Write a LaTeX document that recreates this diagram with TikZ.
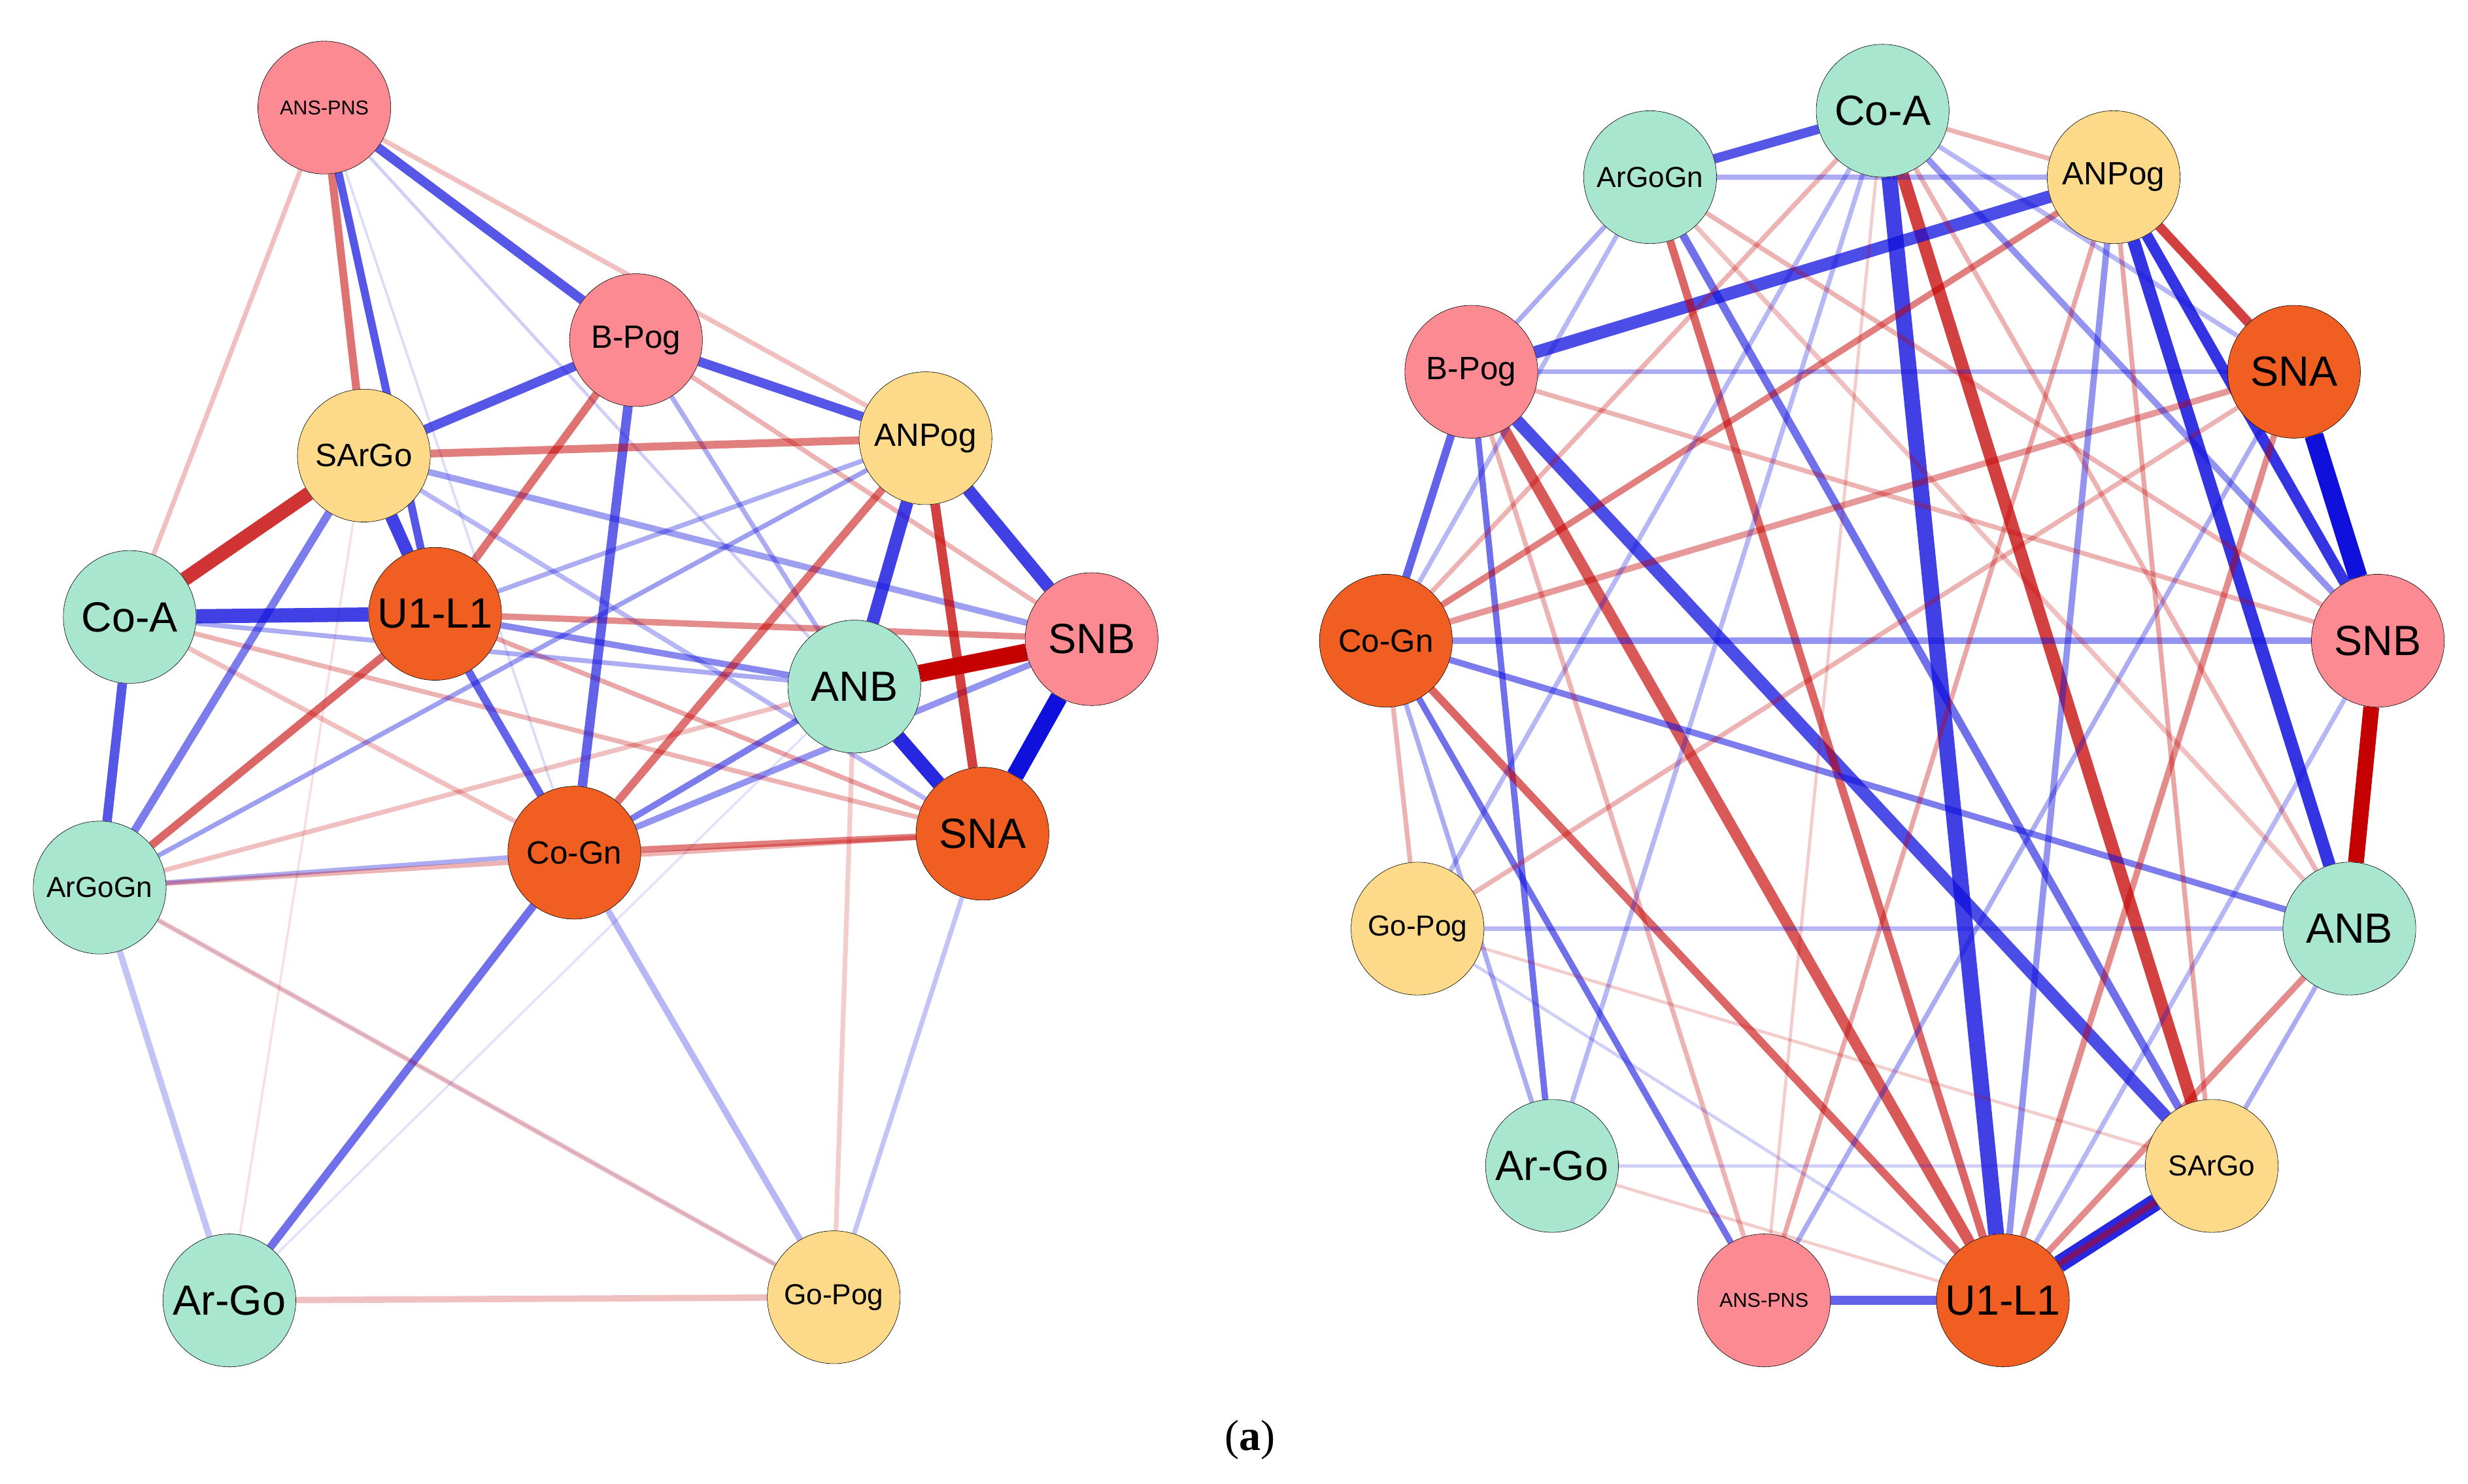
\documentclass[tikz,border=0pt]{standalone}
\usepackage{fontspec}
\setmainfont{Liberation Sans}
\newfontfamily\capfont{Liberation Serif}
\pgfdeclarelayer{bg}\pgfsetlayers{bg,main}
\definecolor{teal}{HTML}{A8E6CF}
\definecolor{pink}{HTML}{FB8A92}
\definecolor{orng}{HTML}{F05E22}
\definecolor{yell}{HTML}{FDDA8A}
\definecolor{eb}{HTML}{1010DD}
\definecolor{er}{HTML}{C40000}
\begin{document}
\begin{tikzpicture}[x=1mm,y=-1mm,
  nd/.style={circle,draw=black,line width=0.25mm,minimum size=84mm,inner sep=0pt},
  T/.style={nd,fill=teal},P/.style={nd,fill=pink},O/.style={nd,fill=orng},Y/.style={nd,fill=yell},
  L/.style={font=\fontsize{76}{86}\selectfont},
  M/.style={font=\fontsize{58}{68}\selectfont},
  S/.style={font=\fontsize{52}{60}\selectfont},
  X/.style={font=\fontsize{36}{44}\selectfont},
  b/.style 2 args={draw=eb,line width=#1mm,draw opacity=#2},
  r/.style 2 args={draw=er,line width=#1mm,draw opacity=#2}]
\useasboundingbox (0,0) rectangle (1560,938);
% left
\node[P,X] (aANS) at (205,68) {ANS-PNS};
\node[P,M] (aBP) at (402,215) {B-Pog};
\node[Y,M] (aSAG) at (230,288) {SArGo};
\node[Y,M] (aANP) at (585,277) {ANPog};
\node[T,L] (aCA) at (82,390) {Co-A};
\node[O,L] (aU) at (275,388) {U1-L1};
\node[P,L] (aSNB) at (690,404) {SNB};
\node[T,L] (aANB) at (540,434) {ANB};
\node[T,S] (aAGG) at (63,561) {ArGoGn};
\node[O,M] (aCG) at (363,539) {Co-Gn};
\node[O,L] (aSNA) at (621,527) {SNA};
\node[T,L] (aAG) at (145,822) {Ar-Go};
\node[Y,S] (aGP) at (527,820) {Go-Pog};
% right
\node[T,L] (bCA) at (1190,70) {Co-A};
\node[T,S] (bAGG) at (1043,112) {ArGoGn};
\node[Y,M] (bANP) at (1336,112) {ANPog};
\node[P,M] (bBP) at (930,235) {B-Pog};
\node[O,L] (bSNA) at (1450,235) {SNA};
\node[O,M] (bCG) at (876,405) {Co-Gn};
\node[P,L] (bSNB) at (1503,405) {SNB};
\node[Y,S] (bGP) at (896,587) {Go-Pog};
\node[T,L] (bANB) at (1485,587) {ANB};
\node[T,L] (bAG) at (981,737) {Ar-Go};
\node[Y,S] (bSAG) at (1398,737) {SArGo};
\node[P,X] (bANS) at (1115,822) {ANS-PNS};
\node[O,L] (bU) at (1266,822) {U1-L1};
\node (cap) at (790,910) {\capfont\fontsize{78}{88}\selectfont(\textbf{a})};
\begin{pgfonlayer}{bg}
% left edges
\draw[b={4}{.25}] (aAG)--(aAGG); \draw[r={4}{.25}] (aAG)--(aGP);
\draw[b={5}{.6}] (aAG)--(aCG); \draw[b={4}{.3}] (aGP)--(aCG);
\draw[b={3}{.25}] (aGP)--(aSNA); \draw[r={3}{.2}] (aGP)--(aANB);
\draw[r={3}{.25}] (aGP)--(aAGG); \draw[b={1.5}{.12}] (aAG)--(aANB);
\draw[r={1.5}{.12}] (aAG)--(aSAG); \draw[b={1.5}{.1}] (aAGG)--(aGP);
\draw[r={3}{.25}] (aANS)--(aCA); \draw[r={3}{.25}] (aANS)--(aANP);
\draw[b={2}{.2}] (aANS)--(aANB); \draw[b={1.5}{.15}] (aANS)--(aCG);
\draw[r={3}{.3}] (aBP)--(aSNB); \draw[b={3}{.35}] (aBP)--(aANB);
\draw[b={4}{.4}] (aSAG)--(aSNB); \draw[b={3}{.3}] (aSAG)--(aSNA);
\draw[r={4}{.45}] (aU)--(aSNB); \draw[b={4}{.5}] (aU)--(aANB);
\draw[r={3}{.35}] (aU)--(aSNA); \draw[b={3}{.35}] (aCA)--(aANB);
\draw[r={3}{.3}] (aCA)--(aSNA); \draw[r={3}{.25}] (aCA)--(aCG);
\draw[b={3}{.35}] (aAGG)--(aCG); \draw[r={3}{.3}] (aAGG)--(aSNA);
\draw[r={3}{.25}] (aAGG)--(aANB); \draw[b={3}{.4}] (aAGG)--(aANP);
\draw[r={4}{.5}] (aCG)--(aSNA); \draw[b={4}{.55}] (aCG)--(aANB);
\draw[r={5}{.55}] (aCG)--(aANP); \draw[b={4}{.45}] (aCG)--(aSNB);
\draw[b={5}{.65}] (aCG)--(aU); \draw[b={6}{.65}] (aBP)--(aCG);
\draw[r={5}{.55}] (aBP)--(aU); \draw[b={6}{.7}] (aBP)--(aSAG);
\draw[b={6}{.7}] (aBP)--(aANP); \draw[b={6}{.7}] (aANS)--(aBP);
\draw[r={5}{.55}] (aANS)--(aSAG); \draw[b={5}{.7}] (aANS)--(aU);
\draw[r={5}{.5}] (aSAG)--(aANP); \draw[r={9}{.8}] (aCA)--(aSAG);
\draw[b={9}{.8}] (aCA)--(aU); \draw[b={8}{.8}] (aSAG)--(aU);
\draw[b={6}{.7}] (aCA)--(aAGG); \draw[r={5}{.6}] (aAGG)--(aU);
\draw[b={5}{.55}] (aAGG)--(aSAG); \draw[b={8}{.8}] (aANP)--(aANB);
\draw[b={8}{.8}] (aANP)--(aSNB); \draw[r={6}{.75}] (aANP)--(aSNA);
\draw[b={9}{.9}] (aANB)--(aSNA); \draw[b={11}{1}] (aSNA)--(aSNB);
\draw[r={11}{1}] (aANB)--(aSNB); \draw[b={3}{.35}] (aU)--(aANP);
% right edges
\draw[b={12}{1}] (bSNA)--(bSNB); \draw[r={10}{1}] (bSNB)--(bANB);
\draw[b={8}{.85}] (bANP)--(bANB); \draw[r={6}{.75}] (bANP)--(bSNA);
\draw[b={7}{.85}] (bANP)--(bSNB); \draw[b={10}{.8}] (bCA)--(bU);
\draw[r={8}{.75}] (bCA)--(bSAG); \draw[b={11}{.9}] (bSAG)--(bU);
\draw[b={8}{.75}] (bANP)--(bBP); \draw[b={8}{.75}] (bBP)--(bSAG);
\draw[r={7}{.65}] (bBP)--(bU); \draw[b={5}{.65}] (bBP)--(bCG);
\draw[b={4}{.6}] (bBP)--(bAG); \draw[b={6}{.7}] (bAGG)--(bCA);
\draw[b={3}{.35}] (bAGG)--(bBP); \draw[b={5}{.6}] (bAGG)--(bSAG);
\draw[r={5}{.6}] (bAGG)--(bU); \draw[b={4}{.45}] (bCG)--(bSNB);
\draw[b={4}{.55}] (bCG)--(bANB); \draw[r={5}{.6}] (bCG)--(bU);
\draw[r={4}{.5}] (bCG)--(bANP); \draw[r={4}{.4}] (bCG)--(bSNA);
\draw[b={4}{.6}] (bCG)--(bANS); \draw[b={6}{.65}] (bANS)--(bU);
\draw[b={4}{.45}] (bU)--(bANP); \draw[r={4}{.45}] (bU)--(bANB);
\draw[b={3}{.35}] (bBP)--(bSNA); \draw[r={3}{.3}] (bCA)--(bANP);
\draw[r={4}{.45}] (bU)--(bSNA); \draw[r={4}{.5}] (bU)--(bSAG);
\draw[r={3}{.3}] (bCG)--(bCA); \draw[b={3}{.35}] (bCG)--(bAG);
\draw[b={3}{.3}] (bGP)--(bCA); \draw[r={3}{.3}] (bGP)--(bSNA);
\draw[b={3}{.3}] (bAG)--(bCA); \draw[r={3}{.3}] (bAGG)--(bSNB);
\draw[b={4}{.45}] (bCA)--(bSNB); \draw[r={3}{.35}] (bANS)--(bANP);
\draw[b={3}{.35}] (bANS)--(bSNA); \draw[r={3}{.3}] (bANS)--(bBP);
\draw[b={3}{.35}] (bANB)--(bSAG); \draw[r={3}{.3}] (bCA)--(bANB);
\draw[b={3}{.3}] (bSNB)--(bU); \draw[r={3}{.3}] (bSNB)--(bBP);
\draw[b={3}{.3}] (bGP)--(bANB); \draw[r={2}{.2}] (bGP)--(bSAG);
\draw[b={2}{.2}] (bAG)--(bSAG); \draw[r={2}{.2}] (bAG)--(bU);
\draw[b={3}{.3}] (bCG)--(bAGG); \draw[r={3}{.3}] (bCG)--(bGP);
\draw[b={3}{.35}] (bAGG)--(bANP); \draw[r={3}{.35}] (bANP)--(bSAG);
\draw[b={3}{.3}] (bCA)--(bSNA); \draw[r={3}{.25}] (bAGG)--(bANB);
\draw[b={2}{.2}] (bGP)--(bU); \draw[r={2}{.2}] (bANS)--(bCA);
\end{pgfonlayer}
\end{tikzpicture}
\end{document}
